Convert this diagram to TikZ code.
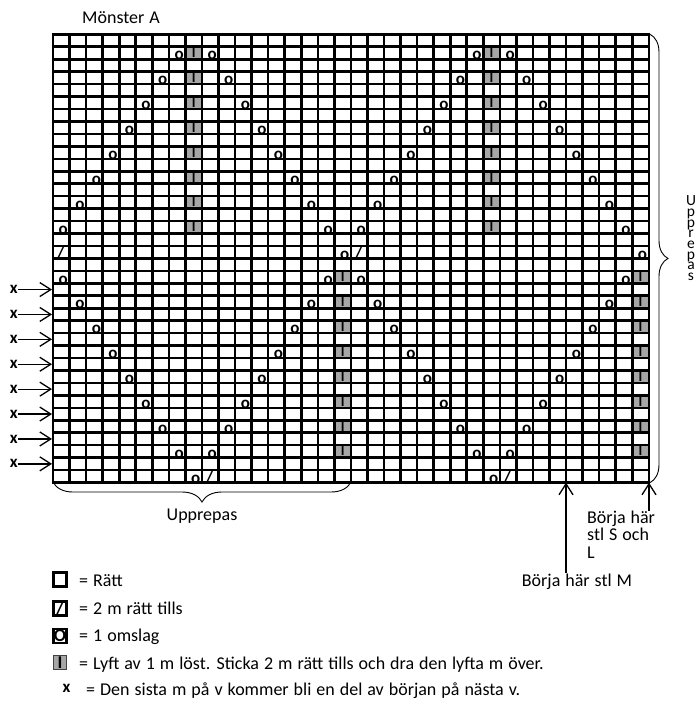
\documentclass[tikz,border=0pt]{standalone}
\usepackage{fontspec}
\setmainfont{Carlito}
\usetikzlibrary{arrows.meta,positioning,decorations.pathreplacing}
\newcommand\widesp{\spaceskip5pt plus 1pt\relax}
\newcommand\tightrows{\lineskiplimit-20pt\lineskip0pt\relax}

\begin{document}
\begin{tikzpicture}[x=1pt,y=-1pt,
  every node/.style={font=\fontsize{18}{17.5}\selectfont\widesp,inner sep=0pt},
  grd/.style={line width=2.6pt,line cap=rect},
  sym/.style={font=\fontsize{17}{17}\selectfont\bfseries},
  yo/.style={sym,xshift=2pt,yshift=-2.8pt},
  lift/.style={font=\fontsize{14}{14}\selectfont\bfseries},
  vword/.style={anchor=north,align=center,font=\fontsize{15.5}{10.7}\selectfont\tightrows},
  shade/.style={fill=black!35},
  ar/.style={-{Straight Barb[length=11pt,width=14pt]},line width=1.3pt},
  brc/.style={decorate,decoration={brace,amplitude=#1},line width=0.9pt},
  legbox/.style={draw,line width=2.3pt,minimum width=13pt,minimum height=14pt},
  legtxt/.style={anchor=base west}]
\useasboundingbox (0,0) rectangle (695,715);
\node[anchor=base west] (title) at (82,23.3) {Mönster A};
\begin{scope}[shift={(53,34.3)},x=16.55pt,y=-12.45pt]
\foreach \o in {0,18} \foreach \k in {1,...,8} {
  \fill[shade] (8+\o,2*\k-1) rectangle (9+\o,2*\k);
  \fill[shade] (17+\o,35-2*\k) rectangle (18+\o,36-2*\k);
}
\foreach \i in {0,...,36} {
  \draw[grd] (\i,0) -- (\i,36);
  \draw[grd] (0,\i) -- (36,\i);
}
\foreach \o in {0,18} \foreach \k in {1,...,8} {
  \node[yo] (ua-\o-\k) at (8.5-\k+\o,2*\k-0.5) {o};
  \node[yo] (ub-\o-\k) at (8.5+\k+\o,2*\k-0.5) {o};
  \node[lift] (ui-\o-\k) at (8.5+\o,2*\k-0.5) {I};
  \node[yo] (la-\o-\k) at (8.5-\k+\o,35.5-2*\k) {o};
  \node[yo] (lb-\o-\k) at (8.5+\k+\o,35.5-2*\k) {o};
  \node[lift] (li-\o-\k) at (17.5+\o,35.5-2*\k) {I};
}
\node[yo] (mo1) at (17.5,17.5) {o};
\node[yo] (mo2) at (35.5,17.5) {o};
\node[sym] (ms1) at (18.5,17.5) {/};
\node[sym] (ms2) at (0.5,17.5) {/};
\node[yo] (bo1) at (8.5,35.5) {o};
\node[yo] (bo2) at (26.5,35.5) {o};
\node[sym] (bs1) at (9.5,35.5) {/};
\node[sym] (bs2) at (27.5,35.5) {/};
\end{scope}
\draw[brc=18] (650,34.3) -- (650,482.6);
\node[vword] (repv) at (691,195.5) {U\\p\\p\\r\\e\\p\\a\\s};
\draw[brc=20] (351,482) -- (53,482);
\node[anchor=base] (rep) at (202,520) {Upprepas};
\foreach \r [count=\i] in {21,23,...,35} {
  \node[sym] (x\i) at (13.7,28.1+12.45*\r) {x};
  \coordinate (xe\i) at (52,28.1+12.45*\r);
  \draw[ar] (x\i) -- (xe\i);
}
\coordinate (cM) at (566,482.6);
\coordinate (cSL) at (649,482.6);
\node[anchor=north west,align=left] (lblSL) at (587,510.5) {Börja här\\stl S och\\L};
\node[anchor=base west] (lblM) at (521.7,586) {Börja här stl M};
\draw[ar] (lblSL.north -| cSL) -- (cSL);
\draw[ar] (lblM.north -| cM) -- (cM);
\node[legbox] (k1) at (60,579.5) {};
\node[legbox] (k2) at (60,608.5) {\bfseries /};
\node[legbox] (k3) at (60,636) {\bfseries O};
\node[legbox,shade,draw=black!75,line width=1.2pt] (k4) at (60,662.5) {\bfseries I};
\node[sym] (k5) at (66.5,688) {x};
\node[legtxt] (t1) at (79,586) {= Rätt};
\node[legtxt] (t2) at (79,614) {= 2 m rätt tills};
\node[legtxt] (t3) at (79,641.5) {= 1 omslag};
\node[legtxt] (t4) at (79,669) {= Lyft av 1 m löst. Sticka 2 m rätt tills och dra den lyfta m över.};
\node[legtxt] (t5) at (86,695) {= Den sista m på v kommer bli en del av början på nästa v.};
\end{tikzpicture}
\end{document}
